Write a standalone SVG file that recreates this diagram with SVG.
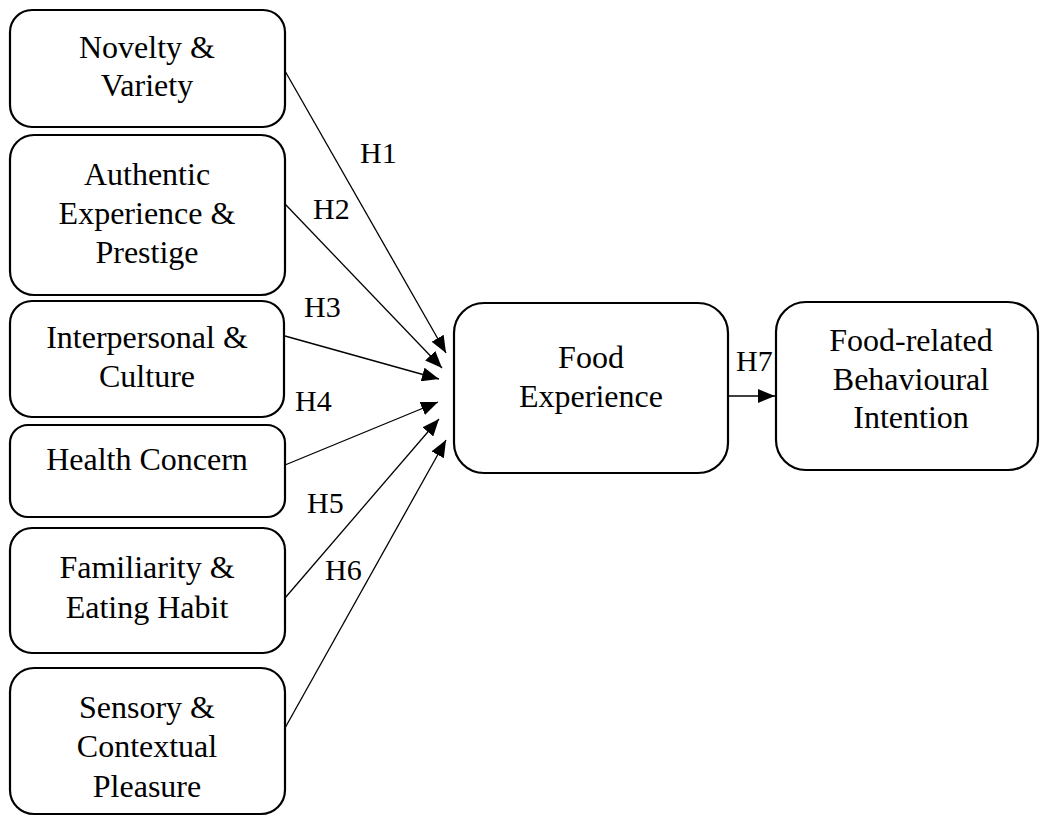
<svg xmlns="http://www.w3.org/2000/svg" width="1040" height="816" viewBox="0 0 1040 816">
<style>
.box{fill:#fff;stroke:#000;stroke-width:2.2}
.t{font-family:"Liberation Serif","Times New Roman",serif;font-size:32px;fill:#000;text-anchor:middle}
.h{font-family:"Liberation Serif","Times New Roman",serif;font-size:30px;fill:#000}
.c{stroke:#000;stroke-width:1.3;fill:none;marker-end:url(#ah)}
</style>
<defs>
<marker id="ah" markerUnits="userSpaceOnUse" markerWidth="18" markerHeight="14" refX="17" refY="7" orient="auto">
<path d="M0,0 L17,7 L0,14 z" fill="#000"/>
</marker>
</defs>
<rect width="1040" height="816" fill="#fff"/>
<g id="connectors">
<line class="c" x1="285" y1="71" x2="446" y2="353"/>
<line class="c" x1="285" y1="204" x2="442" y2="368"/>
<line class="c" x1="285" y1="336" x2="439" y2="379"/>
<line class="c" x1="285" y1="465" x2="438" y2="402"/>
<line class="c" x1="285" y1="598" x2="439" y2="419"/>
<line class="c" x1="285" y1="728" x2="446" y2="440"/>
<line class="c" x1="728" y1="396" x2="775" y2="396"/>
<text class="h" x="360" y="163">H1</text>
<text class="h" x="313" y="219">H2</text>
<text class="h" x="304" y="317">H3</text>
<text class="h" x="295" y="411">H4</text>
<text class="h" x="307" y="513">H5</text>
<text class="h" x="325" y="580">H6</text>
<text class="h" x="736" y="371">H7</text>
</g>
<g id="novelty">
<rect class="box" x="10" y="10" width="275" height="117" rx="22"/>
<text class="t" x="147" y="58">Novelty &amp;</text>
<text class="t" x="147" y="96">Variety</text>
</g>
<g id="authentic">
<rect class="box" x="10" y="135" width="275" height="160" rx="24"/>
<text class="t" x="147" y="185">Authentic</text>
<text class="t" x="147" y="224">Experience &amp;</text>
<text class="t" x="147" y="263">Prestige</text>
</g>
<g id="interpersonal">
<rect class="box" x="10" y="301" width="274" height="116" rx="22"/>
<text class="t" x="147" y="348">Interpersonal &amp;</text>
<text class="t" x="147" y="387">Culture</text>
</g>
<g id="health">
<rect class="box" x="10" y="425" width="275" height="92" rx="18"/>
<text class="t" x="147" y="470">Health Concern</text>
</g>
<g id="familiarity">
<rect class="box" x="10" y="528" width="275" height="125" rx="22"/>
<text class="t" x="147" y="578">Familiarity &amp;</text>
<text class="t" x="147" y="618">Eating Habit</text>
</g>
<g id="sensory">
<rect class="box" x="10" y="668" width="275" height="146" rx="24"/>
<text class="t" x="147" y="718">Sensory &amp;</text>
<text class="t" x="147" y="757">Contextual</text>
<text class="t" x="147" y="797">Pleasure</text>
</g>
<g id="food-experience">
<rect class="box" x="454" y="303" width="274" height="170" rx="30"/>
<text class="t" x="591" y="368">Food</text>
<text class="t" x="591" y="407">Experience</text>
</g>
<g id="intention">
<rect class="box" x="776" y="302" width="262" height="168" rx="30"/>
<text class="t" x="911" y="351">Food-related</text>
<text class="t" x="911" y="390">Behavioural</text>
<text class="t" x="911" y="428">Intention</text>
</g>
</svg>
